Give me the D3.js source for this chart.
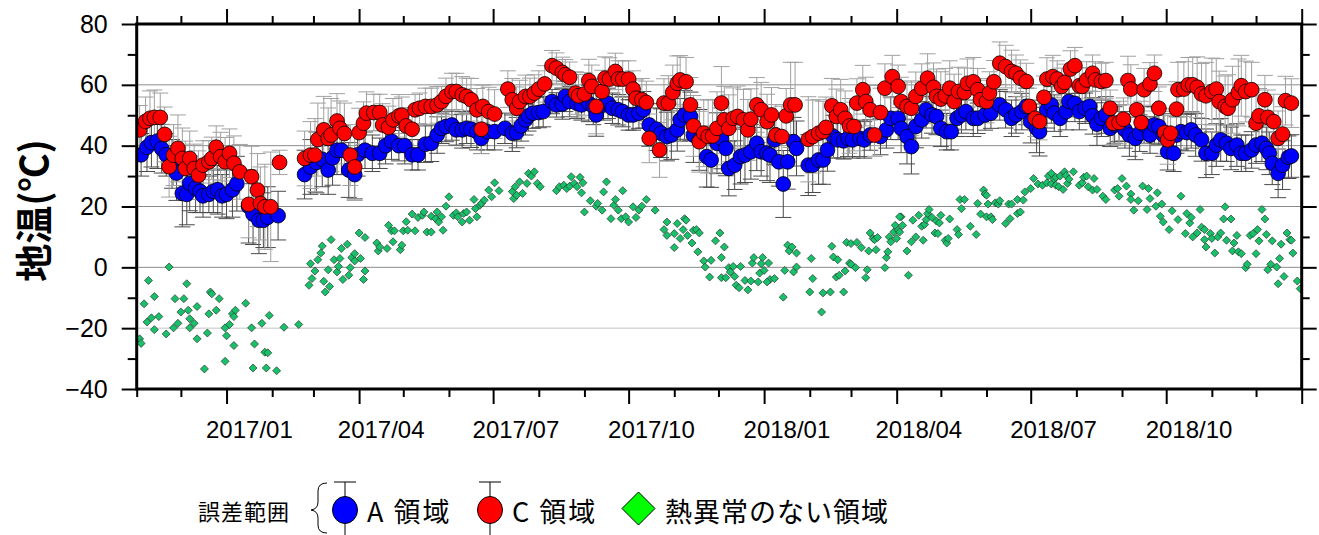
<!DOCTYPE html>
<html>
<head>
<meta charset="utf-8">
<script src="https://cdn.jsdelivr.net/npm/d3@7"></script>
<style>
  body { margin: 0; background: #fff; }
  svg { display: block; }
</style>
</head>
<body>
<div id="chart"></div>
<script>
// day offsets are counted from 2016/11/01
const startDay = Date.UTC(2016, 10, 1)
const endDay = Date.UTC(2019, 0, 1)

// A 領域: [day, temp, error]
const areaA = [
  [3,37,7],[7,39.5,8],[10,41,8],[14,41.5,9],[17,39,8],[20,37,7],[24,34,8],[27,31,9],[31,24.3,11],[34,24,10],
  [36,27.6,9],[40,26,8],[43,25,7],[45,23.5,7],[49,24,6],[52,25,7],[55,25.5,8],[58,23.5,7],[61,24,8],[65,25.5,9],
  [68,27.5,9],[76,20,12],[79,17.5,10],[83,15.5,11],[86,15.5,9],[89,16.5,10],[96,17,8],
  [114,30.5,8],[118,33,9],[122,34.5,10],[126,35.5,9],[130,32,8],[133,36,9],[136,38.5,8],[139,38.5,8],[144,32,9],
  [148,30.5,8],[150,37,7],[155,38.5,6],[160,37.5,6],[165,37.5,5],[169,40,6],[173,41.5,6],[178,40,5],[182,40,6],
  [187,37,5],[191,37,5],[196,40.5,6],
  [200,40.8,6],[204,43.5,6],[207,45.7,5],[210,46.3,5],[214,46.8,5],[217,45.2,5],[221,45.2,6],[224,45.7,5],
  [227,45.4,6],[231,44.6,6],[234,42.4,5],[238,44.6,6],[243,44.6,6],[250,45.7,5],[255,44.1,6],[258,44.3,5],
  [261,46.5,5],[264,48.5,5],[266,49.8,5],[269,50.7,5],[273,50.9,5],[276,51.2,5],[282,54.5,4],[285,53.4,4],
  [289,53.7,5],[291,56.2,5],[294,54.5,5],[299,53.9,5],[302,53.4,5],[307,53.9,6],[310,52.9,6],[312,50.1,7],
  [317,53.4,5],[320,53.9,5],[323,52.3,5],[327,51.8,5],[330,51.2,5],[334,50.1,5],[337,50.1,5],[341,50.7,5],
  [344,51.8,6],[348,46.8,7],[353,45.4,7],[356,44.1,8],[360,43,8],[363,43.5,8],[367,45.2,7],[369,48.5,7],
  [372,50.1,8],[376,49.6,8],[378,43.5,9],[382,41.9,10],[387,36.4,10],[390,35.3,9],[394,40.8,10],
  [397,42.4,10],[400,39.1,9],[402,32.5,9],[406,33.6,8],[410,36.4,9],[413,36.9,9],[417,38,9],[421,40.8,9],
  [424,38,8],[428,37.5,9],[430,36.9,9],[433,41.9,8],[436,34.7,8],[439,27.4,11],[442,34.7,9],[446,41.3,8],
  [448,39.1,9],[456,33.6,10],[459,33.6,9],[463,35.3,8],[466,35.3,8],[469,38.6,7],[473,43,7],[476,41.9,6],
  [480,41.6,6],[483,42.4,6],[486,41.9,6],[491,42.4,6],[494,41.9,6],[498,43.5,5],[505,43,6],[509,45.2,6],
  [512,49,7],[517,49,7],[519,45.7,8],[523,43,9],[526,39.7,9],[529,46.3,7],[533,48.5,6],[536,51.8,6],
  [540,50.1,6],[543,49.6,6],[546,45.7,6],[550,44.6,6],[553,44.6,6],[557,49,6],[560,50.1,6],[563,51.2,6],
  [568,49,6],[571,49,5],[576,50.1,5],[580,50.7,5],[586,53.4,5],
  [590,51.8,6],[594,49,6],[597,50.1,6],[601,51.2,6],[604,52.9,6],[607,47.9,7],[611,45.7,8],[613,44.6,8],
  [618,51.8,6],[621,53.4,6],[623,50.7,6],[627,49,6],[631,51.2,6],[633,54.5,5],[637,53.9,6],[640,51.2,6],
  [644,52.3,5],[647,52.9,5],[649,49.8,6],[652,47.1,7],[655,49,6],[658,50.1,6],[661,45.7,6],[664,46.8,6],
  [667,47.4,6],[671,45.2,6],[674,43.5,7],[678,42.4,7],[681,44.1,6],[684,46.8,6],[688,43.5,6],[691,46.8,6],
  [694,46.3,6],[697,43.5,7],[700,38,6],[704,37.5,6],[706,43.5,6],[709,44.6,6],[713,44.3,6],[716,45.2,6],
  [719,43.5,7],[723,41.9,7],[726,37.5,8],[730,37.5,7],[733,40.2,7],[736,41.9,7],[740,40.8,6],[743,39.1,7],
  [747,40.2,7],[750,37.5,6],[753,37.5,6],[757,38.6,6],[760,40.2,6],[764,40.8,6],[767,39.1,7],[769,37.5,7],
  [771,34.2,7],[775,30.9,8],[778,33.6,8],[782,36.2,7],[784,36.6,7]
]

// C 領域: [day, temp, error]
const areaC = [
  [2,45.2,8],[6,48,8],[9,49,9],[12,49.3,9],[16,49.3,8],[19,43.7,9],[22,33.1,10],[25,36.9,10],[28,39.1,11],
  [31,35.8,10],[33,32.5,9],[36,35.8,9],[39,32.5,8],[42,30.3,8],[45,33.6,8],[49,34.7,7],[51,35.8,7],[54,39.5,7],
  [57,36.4,8],[60,34.7,8],[63,37.5,8],[66,34.2,9],[70,31.4,9],[76,20.7,11],[78,29.8,10],[82,25.4,12],[84,21,12],
  [87,19.9,14],[91,19.9,18],[97,34.5,4],
  [114,35.8,9],[118,36.9,11],[121,36.9,12],[123,42,12],[127,45.2,11],[130,42.4,10],[132,43.5,12],[136,48.1,9],
  [138,45.7,9],[141,44,10],[145,36.9,10],[148,33,11],[151,44.3,8],[154,47.4,7],[156,50.7,7],[161,50.9,6],
  [165,50.9,6],[167,46.8,7],[171,46,7],[174,48.5,7],[178,49.8,7],[180,50,6],[183,46.5,6],[187,45.4,6],
  [189,51.8,5],[192,52.3,5],[196,52.9,6],
  [200,52.9,6],[204,53.4,6],[207,54.5,5],[210,56.2,6],[214,57.8,6],[217,57.8,6],[221,56.7,6],[224,56.2,6],
  [227,55.1,7],[231,51.8,7],[234,45.4,8],[235,52.9,7],[239,51.2,8],[243,50.4,8],[252,58.6,6],[255,55.1,7],
  [258,52.3,7],[260,54.5,7],[264,56.2,7],[267,56.2,6],[270,57.3,6],[273,58.6,6],[277,60.3,6],[282,66.3,5],
  [285,65.5,5],[289,64.1,5],[291,63.3,5],[294,62.5,5],[298,57.3,7],[300,56.4,7],[304,57,7],[307,61.4,7],
  [309,59.5,7],[312,52.9,9],[316,57.8,7],[318,62.2,7],[321,61.9,7],[325,64.4,6],[327,61.9,6],[330,61.9,6],
  [334,61.9,6],[337,58.6,6],[339,55.6,6],[343,55.1,7],[346,54.2,7],[348,42.4,8],[355,38.6,9],[358,54,8],
  [361,54,9],[364,57.5,9],[367,60.5,9],[369,61.6,8],[373,61,8],[376,53.4,9],[378,46.5,10],[382,41.3,10],
  [385,44.1,11],[388,43,12],[391,43.2,12],[394,45.7,12],
  [397,54,12],[399,48.5,11],[402,45.7,11],[405,49,10],[408,49.6,10],[412,48.5,10],[415,45.2,10],[417,48.7,10],
  [421,53.4,9],[424,51.8,9],[428,47.9,9],[431,50.1,9],[434,43.5,10],[438,43,10],[441,49.8,9],[444,53.4,14],
  [447,53.4,14],[456,42.1,14],[459,43,12],[463,44.1,11],[466,44.6,10],[468,46,10],[472,53.1,9],[475,49.6,9],
  [478,51.8,10],[481,49,9],[484,46.5,9],[487,46.3,8],[489,54,8],[493,58.4,8],[495,54.5,8],[498,51.8,8],
  [501,43.5,7],[505,50.9,8],[508,58.9,8],[513,62.7,7],[517,59.5,7],[519,54.5,8],[523,52.9,8],[526,52.3,9],
  [529,56.2,8],[533,58.9,8],[537,62.2,8],[541,59.2,8],[543,56.2,9],[546,55.3,9],[549,56.4,9],[552,58.9,9],
  [555,54.5,9],[558,57.8,8],[562,57.5,8],[564,60.5,8],[568,61,8],[571,58.4,7],[573,55.1,7],[577,54.5,7],
  [579,57.3,7],[582,61,7],[586,67.1,7],
  [590,66,7],[594,64.4,7],[597,63.8,6],[600,62.2,6],[604,61.1,6],[606,52.9,6],[610,49,6],[613,47.9,6],
  [616,55.9,7],[618,61.9,7],[622,62.7,7],[625,61.9,6],[628,59.5,6],[630,60.8,6],[634,65.2,6],[637,66.3,6],
  [640,59.7,6],[642,59.5,6],[645,61.6,6],[649,63.8,6],[651,61.6,6],[655,61.1,6],[658,61.4,6],[661,52.3,6],
  [663,47.4,7],[667,47.6,7],[670,48.7,7],[673,61.4,8],[675,58.6,8],[679,51.8,8],[682,47.6,7],[684,58.4,7],
  [688,60.3,7],[691,63.8,6],[694,52.3,7],[698,44.3,7],[700,41.9,8],[702,44.1,8],[706,52,9],[707,58.4,9],
  [711,58.6,9],[714,60,9],[717,60,9],[720,59.2,10],[723,57,10],[726,56.4,11],[730,57.8,11],[733,58.6,10],
  [735,54.5,10],[739,52.9,10],[741,52.3,11],[744,55.1,11],[748,57.5,11],[750,59.7,10],[753,57.8,10],
  [757,58.4,9],[760,47.4,9],[762,49.8,9],[766,55.1,8],[768,49.3,9],[772,47.9,9],[775,42.4,9],[778,43.8,9],
  [780,54.8,8],[784,54,8]
]

// 熱異常のない領域: [day, temp]
const noAnomaly = [
  [2,-23.5],[3,-25],[5,-12],[7,-18],[8,-4.3],[10,-16.6],[12,-20.5],[12,-9.6],[15,-16.2],[20,-21.9],[22,0.1],
  [25,-19.9],[26,-10.3],[28,-18.4],[30,-14.7],[32,-10.3],[34,-5.4],[35,-14.1],[36,-16.9],[36,-19.9],[39,-18.4],
  [41,-23.5],[41,-12.9],[46,-33.4],[48,-21.6],[49,-15.3],[50,-8.1],[51,-8.7],[54,-14.1],[56,-10.3],[60,-30.9],
  [61,-22.5],[60,-19.9],[63,-18.8],[65,-15.3],[66,-25.7],[67,-14.1],[66,-16.2],[74,-11.8],[78,-19.9],[79,-33.1],
  [80,-25.2],[85,-18.4],[87,-27.9],[89,-28.1],[88,-33.1],[90,-15.8],[95,-34],[100,-19.7],[110,-18.8],
  [117,-5.9],[118,1.2],[119,-3.7],[121,-1.2],[123,2.5],[125,4.7],[126,7],[127,-4.6],[128,-8.1],[130,-0.8],
  [131,-6.3],[132,9.1],[134,2.5],[136,-1.5],[137,0.3],[138,2.9],[139,6.2],[140,-4],[143,7.6],[144,-2.6],
  [145,-0.1],[146,3.2],[148,2.1],[148,4.5],[152,2.9],[151,11.3],[154,-4],[155,-1.2],[155,9.8],[163,8],[164,5.4],
  [165,6.7],[170,6.2],[171,13.8],[173,12],[174,8.4],[175,12],[179,5.8],[180,7.3],[181,12],[183,15],[184,12.2],
  [187,17.5],[189,12],[191,16.4],[194,17.1],[195,18.2],[197,11.6],[200,16.8],
  [200,11.6],[203,16],[205,14.9],[204,18.2],[207,16.6],[208,12.2],[210,20.1],[212,23.2],[215,17.1],[217,17.9],
  [218,16.6],[221,14.9],[222,17.7],[224,18.2],[226,15.5],[229,22.3],[230,19.3],[231,16.6],[233,20.4],[234,21],
  [236,22.1],[239,25.4],[241,23.2],[243,27.8],[246,25.2],[255,24.9],[256,22.6],[257,26.5],[258,23.7],[260,28.1],
  [262,24.3],[265,27.6],[266,30.9],[268,30],[270,31.4],[272,27.6],[274,26.5],[285,25.2],[287,26.5],[290,27],
  [292,25.9],[294,26.7],[295,29.8],[297,27.6],[299,26.5],[301,29.6],[302,24.5],[303,27.8],[304,18.2],[308,21.9],
  [312,20.1],[313,21],[316,18.8],[317,24.8],[319,28.1],[322,16],[324,20.4],[325,22.3],[327,18.8],[329,16],
  [330,25.2],[332,16.6],[334,14.9],[337,19.9],[339,16.4],[341,18.8],[343,20.1],[346,22.3],[352,18.8],[358,12.4],
  [360,14.9],[360,10.5],[365,6.5],[365,11.1],[367,14.4],[369,9.5],[371,12.4],[372,16],[373,15.5],[374,10.5],
  [377,8],[378,12.2],[380,12.4],[382,11.3],[381,5.1],[385,2.1],[386,0.1],[389,-3.2],[390,2.3],[393,8.7],
  [396,11.3],[399,6.7],[397,3.2],[397,-3.4],[400,-3.4],[402,-0.1],[405,0.3],[403,-1.5],[406,-3],[407,-5.9],
  [409,-6.7],[410,0.3],[413,-4.3],[415,-7.4],[417,-4.5],[418,1.4],[419,3.2],[422,-4.8],[423,-1.9],[425,3.2],
  [426,-1],[424,1.2],[429,1.4],[430,-4],[428,-4.8],[433,-3.7],[439,-9.8],[440,-1],[442,7.3],[443,5.4],[445,6.7],
  [446,-1.5],[448,0.1],[448,4.7],[457,-8.1],[458,2.9],[459,-3.7],[465,-14.7],[466,-8.4],[471,-8.1],[472,6.9],
  [473,3.4],[476,2.5],[475,-3.2],[477,-2.6],[480,-8.1],[481,-1.2],[482,8.2],[484,1.4],[485,7.8],[485,1],
  [488,-0.1],[489,8.2],[492,6.5],[495,-3.4],[496,-0.8],[497,5.4],[498,11.3],[500,9.5],[501,9.1],[502,5.8],
  [503,9.8],[508,-0.1],[509,3.2],[510,5.1],[511,10],[512,8.4],[514,11.6],[515,13.8],[516,9.5],[517,12.2],
  [518,11.6],[519,16.6],[520,13.8],[518,16.6],[523,5.4],[524,-2.6],[526,8.4],[527,15.5],[529,10],[531,17.1],
  [533,13.5],[534,8.9],[535,14.1],[536,15.7],[537,17.7],[538,19],[540,16.4],[542,11.3],[543,15.2],[544,11.1],
  [545,14.6],[546,17.1],[549,8.9],[550,8],[552,15.9],[551,9.5],[557,12.4],[558,10.8],[559,22.3],[560,19.3],
  [562,22.3],[566,13.5],[570,10.8],[571,21],[573,17.5],[575,25.4],[576,24.1],[577,23.7],[578,20.8],[577,16.6],
  [580,16.6],[581,15.7],[583,21.2],[585,20.8],[586,21.9],
  [590,14.4],[593,16],[592,20.8],[594,20.8],[598,17.7],[600,18.2],[598,22.3],[602,22.1],[603,24.8],[607,25.9],
  [609,29.2],[612,27.4],[615,27],[618,27.8],[619,30],[621,30.9],[621,27.4],[623,29],[624,27],[624,29.6],
  [626,26.5],[627,30],[629,25.6],[630,31.4],[631,30.2],[632,27.6],[633,29],[636,31.4],[640,27],[642,27.8],
  [643,29.6],[645,30],[646,26.5],[649,25.4],[650,29.2],[652,25.6],[656,23.4],[658,22.3],[664,25.4],[666,25.9],
  [667,23.4],[669,29.2],[672,26.7],[675,24.1],[675,22.3],[677,18.8],[680,21.9],[683,26.7],[687,25.9],[688,22.6],
  [686,19],[693,24.5],[692,20.1],[695,16.8],[696,20.8],[697,14.9],[701,12.4],[703,18.6],[707,15.7],[709,23.4],
  [712,11.1],[713,17.7],[715,14.6],[716,16.4],[717,10],[720,11.3],[722,19],[723,13.2],[725,9.1],[725,12.4],
  [726,6.7],[729,11.1],[730,9.5],[732,4.7],[734,10],[736,11.3],[738,15.9],[739,19.9],[740,8.9],[743,15.9],
  [745,8],[747,10.5],[744,5.4],[748,5.1],[750,4.5],[753,-0.1],[754,1],[756,10.5],[758,11.1],[760,4.5],
  [761,12.4],[762,8.7],[764,19],[766,15.9],[767,10.8],[768,-0.8],[770,1],[771,8.7],[774,0.1],[775,-5.4],
  [776,2.9],[777,7.6],[779,-3],[781,11.3],[783,9.1],[784,8.9],[785,4.7],[788,-4.5],[790,-7]
]

const yMajor = [-40, -20, 0, 20, 40, 60, 80]
const yMinor = [-30, -10, 10, 30, 50, 70]
const gridTemps = [-20, 0, 20, 40, 60]
const monthLabels = ["2017/01", "2017/04", "2017/07", "2017/10", "2018/01", "2018/04", "2018/07", "2018/10"]
const yTitle = "地温(℃)"
const legendNames = ["A 領域", "C 領域", "熱異常のない領域"]
const legendNote = "誤差範囲"

const width = 1319, height = 535
const plot = {left: 136.7, right: 1301.7, top: 24, bottom: 389}
const numFont = "'Liberation Sans', Arial, sans-serif"
const jpFont = "'Noto Sans CJK JP', sans-serif"

const svg = d3.select("#chart")
  .append("svg")
  .attr("width", width)
  .attr("height", height)
  .style("background", "#fff")

const toDate = d => new Date(startDay + d * 864e5)

const x = d3.scaleUtc()
  .domain([new Date(startDay), new Date(endDay)])
  .range([plot.left, plot.right])
const y = d3.scaleLinear()
  .domain([-40, 80])
  .range([plot.bottom, plot.top])

// grid lines
svg.append("g")
  .selectAll("line")
  .data(gridTemps)
  .join("line")
    .attr("x1", plot.left)
    .attr("x2", plot.right)
    .attr("y1", d => y(d))
    .attr("y2", d => y(d))
    .attr("stroke", d => d === -20 ? "#c4c4c4" : "#8c8c8c")
    .attr("stroke-width", 1)

svg.append("clipPath").attr("id", "plot-clip")
  .append("rect")
  .attr("x", plot.left).attr("y", plot.top)
  .attr("width", plot.right - plot.left).attr("height", plot.bottom - plot.top)

const marks = svg.append("g").attr("clip-path", "url(#plot-clip)")

// error bars
function errorBars(data, color) {
  const g = marks.append("g").attr("stroke", color).attr("stroke-width", 1)
  data.forEach(d => {
    const cx = x(toDate(d[0])), top = y(d[1] + d[2]), bot = y(d[1] - d[2])
    g.append("line").attr("x1", cx).attr("x2", cx).attr("y1", top).attr("y2", bot)
    g.append("line").attr("x1", cx - 8).attr("x2", cx + 8).attr("y1", top).attr("y2", top)
    g.append("line").attr("x1", cx - 8).attr("x2", cx + 8).attr("y1", bot).attr("y2", bot)
  })
}
errorBars(areaA, "#4a4a4a")
errorBars(areaC, "#a0a0a0")

// diamonds
marks.append("g")
  .selectAll("path")
  .data(noAnomaly)
  .join("path")
    .attr("transform", d => `translate(${x(toDate(d[0]))},${y(d[1])})`)
    .attr("d", "M0,-4L4,0L0,4L-4,0Z")
    .attr("fill", "#19c06a")
    .attr("stroke", "#24362c")
    .attr("stroke-width", 0.7)

function circles(data, color) {
  marks.append("g")
    .selectAll("circle")
    .data(data)
    .join("circle")
      .attr("cx", d => x(toDate(d[0])))
      .attr("cy", d => y(d[1]))
      .attr("r", 7.4)
      .attr("fill", color)
      .attr("stroke", "#000")
      .attr("stroke-width", 0.8)
}
circles(areaA, "#0000ff")
circles(areaC, "#ff0000")

// axes
const months = d3.utcMonth.range(new Date(startDay), new Date(endDay + 1))
const isMajor = d => d.getUTCMonth() % 3 === 0

svg.append("g")
  .attr("transform", `translate(0,${plot.bottom})`)
  .call(d3.axisBottom(x).tickValues(months).tickFormat(""))
  .call(g => g.select(".domain").remove())
  .call(g => g.selectAll(".tick line").attr("y2", d => isMajor(d) ? 15 : 8).attr("stroke-width", 2))

svg.append("g")
  .attr("transform", `translate(0,${plot.top})`)
  .call(d3.axisTop(x).tickValues(months).tickFormat(""))
  .call(g => g.select(".domain").remove())
  .call(g => g.selectAll(".tick line").attr("y2", d => isMajor(d) ? -15 : -8).attr("stroke-width", 2))

svg.append("g")
  .attr("transform", `translate(${plot.left},0)`)
  .call(d3.axisLeft(y).tickValues(yMajor).tickSize(15).tickPadding(14))
  .call(g => g.select(".domain").remove())
  .call(g => g.selectAll(".tick line").attr("stroke-width", 2))
  .call(g => g.selectAll(".tick text")
    .style("font-family", numFont)
    .style("font-size", "25px")
    .attr("fill", "#000"))

svg.append("g")
  .attr("transform", `translate(${plot.left},0)`)
  .call(d3.axisLeft(y).tickValues(yMinor).tickSize(9).tickFormat(""))
  .call(g => g.select(".domain").remove())
  .call(g => g.selectAll(".tick line").attr("stroke-width", 2))

svg.append("g")
  .attr("transform", `translate(${plot.right},0)`)
  .call(d3.axisRight(y).tickValues(yMajor).tickSize(15).tickFormat(""))
  .call(g => g.select(".domain").remove())
  .call(g => g.selectAll(".tick line").attr("stroke-width", 2))

svg.append("g")
  .attr("transform", `translate(${plot.right},0)`)
  .call(d3.axisRight(y).tickValues(yMinor).tickSize(8).tickFormat(""))
  .call(g => g.select(".domain").remove())
  .call(g => g.selectAll(".tick line").attr("stroke-width", 2))

// frame
svg.append("rect")
  .attr("x", plot.left).attr("y", plot.top)
  .attr("width", plot.right - plot.left).attr("height", plot.bottom - plot.top)
  .attr("fill", "none")
  .attr("stroke", "#000")
  .attr("stroke-width", 3)

// month labels, centred on the month
svg.append("g")
  .selectAll("text")
  .data(monthLabels)
  .join("text")
    .attr("x", s => {
      const [yy, mm] = s.split("/").map(Number)
      const m0 = new Date(Date.UTC(yy, mm - 1, 1)), m1 = new Date(Date.UTC(yy, mm, 1))
      return (x(m0) + x(m1)) / 2
    })
    .attr("y", 438)
    .attr("text-anchor", "middle")
    .style("font-family", numFont)
    .style("font-size", "24px")
    .text(s => s)

// y title
svg.append("text")
  .attr("transform", `translate(31,${(plot.top + plot.bottom) / 2 + 4}) rotate(-90)`)
  .attr("text-anchor", "middle")
  .attr("dominant-baseline", "central")
  .style("font-family", jpFont)
  .style("font-weight", "bold")
  .style("font-size", "38px")
  .text(yTitle)

// legend
const legend = svg.append("g")
const legY = 510

legend.append("text")
  .attr("x", 198).attr("y", legY)
  .attr("dominant-baseline", "central")
  .style("font-family", jpFont)
  .style("font-size", "22px")
  .style("letter-spacing", "1px")
  .text(legendNote)

legend.append("path")
  .attr("d", "M327,483 Q318,483 318,491 L318,502 Q318,509 311,510 Q318,511 318,518 L318,525 Q318,533 327,533")
  .attr("fill", "none")
  .attr("stroke", "#000")
  .attr("stroke-width", 1)

const legendCircles = [
  {cx: 345, fill: "#0000ff", name: legendNames[0], tx: 367},
  {cx: 490, fill: "#ff0000", name: legendNames[1], tx: 512}
]
legendCircles.forEach(d => {
  legend.append("line")
    .attr("x1", d.cx).attr("x2", d.cx).attr("y1", 482).attr("y2", 540)
    .attr("stroke", "#000")
  legend.append("line")
    .attr("x1", d.cx - 11).attr("x2", d.cx + 11).attr("y1", 482).attr("y2", 482)
    .attr("stroke", "#000")
  legend.append("ellipse")
    .attr("cx", d.cx).attr("cy", legY)
    .attr("rx", 12.5).attr("ry", 13.5)
    .attr("fill", d.fill)
    .attr("stroke", "#000")
    .attr("stroke-width", 1)
  legend.append("text")
    .attr("x", d.tx).attr("y", legY)
    .attr("dominant-baseline", "central")
    .style("font-family", jpFont)
    .style("font-size", "27px")
    .style("letter-spacing", "2px")
    .text(d.name)
})

legend.append("path")
  .attr("transform", `translate(638.5,508.5)`)
  .attr("d", "M0,-16.5L16.5,0L0,16.5L-16.5,0Z")
  .attr("fill", "#00ff00")
  .attr("stroke", "#000")
  .attr("stroke-width", 1)

legend.append("text")
  .attr("x", 665).attr("y", legY)
  .attr("dominant-baseline", "central")
  .style("font-family", jpFont)
  .style("font-size", "27px")
  .style("letter-spacing", "1px")
  .text(legendNames[2])
</script>
</body>
</html>
